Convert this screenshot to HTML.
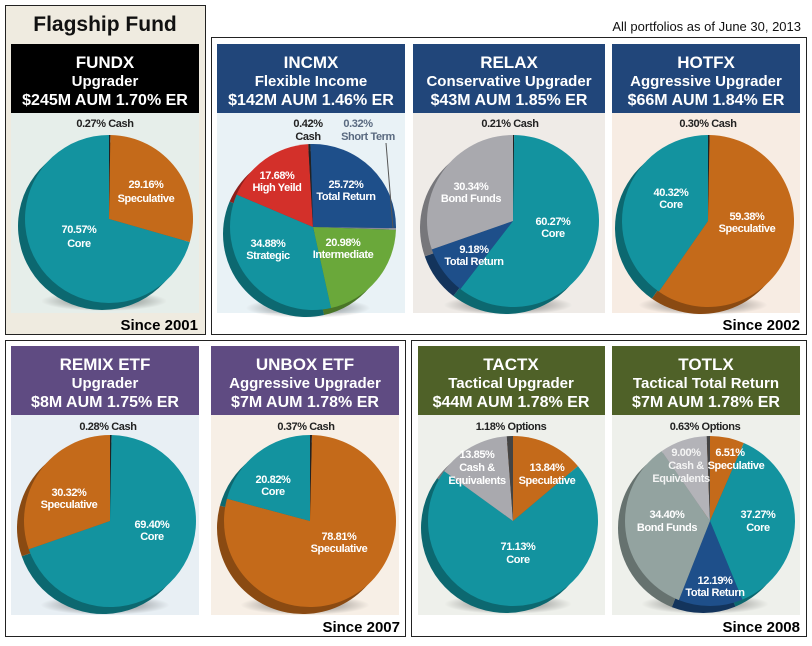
<!DOCTYPE html>
<html><head><meta charset="utf-8"><style>
body{margin:0;background:#fff;}
svg text{font-family:"Liberation Sans",sans-serif;}
.h{font-weight:bold;fill:#fff;text-anchor:middle;}
.l{font-weight:bold;font-size:11px;fill:#fff;text-anchor:middle;letter-spacing:-0.4px;}
.d{font-weight:bold;font-size:11px;fill:#222;text-anchor:middle;letter-spacing:-0.4px;}
.s{font-weight:bold;font-size:15px;fill:#000;text-anchor:end;}
</style></head><body>
<svg id="sv" width="812" height="641" xmlns="http://www.w3.org/2000/svg">
<defs>
<radialGradient id="sh"><stop offset="0" stop-color="#000" stop-opacity="0.55"/><stop offset="1" stop-color="#000" stop-opacity="0"/></radialGradient>
</defs>
<!-- boxes -->
<rect x="5.5" y="5.5" width="200" height="329" fill="#efebe0" stroke="#222"/>
<rect x="211.5" y="37.5" width="595" height="297" fill="#fff" stroke="#222"/>
<rect x="5.5" y="340.5" width="400" height="296" fill="#fff" stroke="#222"/>
<rect x="411.5" y="340.5" width="395" height="296" fill="#fff" stroke="#222"/>
<text x="105" y="31" style="font-size:21px;font-weight:bold;text-anchor:middle;fill:#111">Flagship Fund</text>
<text x="801" y="31" style="font-size:13px;text-anchor:end;fill:#111">All portfolios as of June 30, 2013</text>
<!-- panel bgs -->
<rect x="11" y="113" width="188" height="200" fill="#e6eeea"/>
<rect x="217" y="113" width="188" height="200" fill="#e9f2f6"/>
<rect x="413" y="113" width="192" height="200" fill="#efebe7"/>
<rect x="612" y="113" width="188" height="200" fill="#f7ece3"/>
<rect x="11" y="415" width="188" height="200" fill="#e8eff4"/>
<rect x="211" y="415" width="188" height="200" fill="#f7efe6"/>
<rect x="418" y="415" width="187" height="200" fill="#eef0eb"/>
<rect x="612" y="415" width="188" height="200" fill="#eef0eb"/>
<!-- headers -->
<rect x="11" y="44" width="188" height="69" fill="#000"/>
<rect x="217" y="44" width="188" height="69" fill="#21467a"/>
<rect x="413" y="44" width="192" height="69" fill="#21467a"/>
<rect x="612" y="44" width="188" height="69" fill="#21467a"/>
<rect x="11" y="346" width="188" height="69" fill="#5f4b82"/>
<rect x="211" y="346" width="188" height="69" fill="#5f4b82"/>
<rect x="418" y="346" width="187" height="69" fill="#4f6128"/>
<rect x="612" y="346" width="188" height="69" fill="#4f6128"/>
<g id="hdr"></g>
<g id="pies"></g>
<g>
<text class="h" style="font-size:17px" x="105" y="68">FUNDX</text><text class="h" style="font-size:15px" x="105" y="86">Upgrader</text><text class="h" style="font-size:16px" x="105" y="105">$245M AUM  1.70% ER</text>
<text class="h" style="font-size:17px" x="311" y="68">INCMX</text><text class="h" style="font-size:15px" x="311" y="86">Flexible Income</text><text class="h" style="font-size:16px" x="311" y="105">$142M AUM  1.46% ER</text>
<text class="h" style="font-size:17px" x="509" y="68">RELAX</text><text class="h" style="font-size:15px" x="509" y="86">Conservative Upgrader</text><text class="h" style="font-size:16px" x="509" y="105">$43M AUM  1.85% ER</text>
<text class="h" style="font-size:17px" x="706" y="68">HOTFX</text><text class="h" style="font-size:15px" x="706" y="86">Aggressive Upgrader</text><text class="h" style="font-size:16px" x="706" y="105">$66M AUM  1.84% ER</text>
<text class="h" style="font-size:17px" x="105" y="370">REMIX ETF</text><text class="h" style="font-size:15px" x="105" y="388">Upgrader</text><text class="h" style="font-size:16px" x="105" y="407">$8M AUM  1.75% ER</text>
<text class="h" style="font-size:17px" x="305" y="370">UNBOX ETF</text><text class="h" style="font-size:15px" x="305" y="388">Aggressive Upgrader</text><text class="h" style="font-size:16px" x="305" y="407">$7M AUM  1.78% ER</text>
<text class="h" style="font-size:17px" x="511" y="370">TACTX</text><text class="h" style="font-size:15px" x="511" y="388">Tactical Upgrader</text><text class="h" style="font-size:16px" x="511" y="407">$44M AUM  1.78% ER</text>
<text class="h" style="font-size:17px" x="706" y="370">TOTLX</text><text class="h" style="font-size:15px" x="706" y="388">Tactical Total Return</text><text class="h" style="font-size:16px" x="706" y="407">$7M AUM  1.78% ER</text>
</g>
<g id="labels">
<text class="d" x="105" y="127">0.27% Cash</text>
<text class="l" x="146" y="188">29.16%</text><text class="l" x="146" y="202">Speculative</text>
<text class="l" x="79" y="233">70.57%</text><text class="l" x="79" y="247">Core</text>
<text class="d" x="308" y="127">0.42%</text><text class="d" x="308" y="140">Cash</text>
<text class="d" x="358" y="127" style="fill:#5a6a80">0.32%</text><text class="d" x="368" y="140" style="fill:#5a6a80">Short Term</text>
<line x1="386" y1="143" x2="393" y2="228" stroke="#555"/>
<text class="l" x="277" y="179">17.68%</text><text class="l" x="277" y="191">High Yeild</text>
<text class="l" x="346" y="188">25.72%</text><text class="l" x="346" y="200">Total Return</text>
<text class="l" x="268" y="247">34.88%</text><text class="l" x="268" y="259">Strategic</text>
<text class="l" x="343" y="246">20.98%</text><text class="l" x="343" y="258">Intermediate</text>
<text class="d" x="510" y="127">0.21% Cash</text>
<text class="l" x="471" y="190">30.34%</text><text class="l" x="471" y="202">Bond Funds</text>
<text class="l" x="553" y="225">60.27%</text><text class="l" x="553" y="237">Core</text>
<text class="l" x="474" y="253">9.18%</text><text class="l" x="474" y="265">Total Return</text>
<text class="d" x="708" y="127">0.30% Cash</text>
<text class="l" x="671" y="196">40.32%</text><text class="l" x="671" y="208">Core</text>
<text class="l" x="747" y="220">59.38%</text><text class="l" x="747" y="232">Speculative</text>
<text class="d" x="108" y="430">0.28% Cash</text>
<text class="l" x="69" y="496">30.32%</text><text class="l" x="69" y="508">Speculative</text>
<text class="l" x="152" y="528">69.40%</text><text class="l" x="152" y="540">Core</text>
<text class="d" x="306" y="430">0.37% Cash</text>
<text class="l" x="273" y="483">20.82%</text><text class="l" x="273" y="495">Core</text>
<text class="l" x="339" y="540">78.81%</text><text class="l" x="339" y="552">Speculative</text>
<text class="d" x="511" y="430">1.18% Options</text>
<text class="l" x="477" y="458">13.85%</text><text class="l" x="477" y="471">Cash &amp;</text><text class="l" x="477" y="484">Equivalents</text>
<text class="l" x="547" y="471">13.84%</text><text class="l" x="547" y="484">Speculative</text>
<text class="l" x="518" y="550">71.13%</text><text class="l" x="518" y="563">Core</text>
<text class="d" x="705" y="430">0.63% Options</text>
<text class="l" x="686" y="456" style="fill:#f4f4f4">9.00%</text><text class="l" x="686" y="469" style="fill:#f4f4f4">Cash &amp;</text><text class="l" x="681" y="482" style="fill:#f4f4f4">Equivalents</text>
<text class="l" x="730" y="456">6.51%</text><text class="l" x="736" y="469">Speculative</text>
<text class="l" x="758" y="518">37.27%</text><text class="l" x="758" y="531">Core</text>
<text class="l" x="667" y="518">34.40%</text><text class="l" x="667" y="531">Bond Funds</text>
<text class="l" x="715" y="584">12.19%</text><text class="l" x="715" y="596">Total Return</text>
</g>
<text class="s" x="198" y="330">Since 2001</text>
<text class="s" x="800" y="330">Since 2002</text>
<text class="s" x="400" y="632">Since 2007</text>
<text class="s" x="800" y="632">Since 2008</text>
</svg>
<script>
var T='#13939f',TD='#0c6870',O='#c46a1a',OD='#8a4a12',K='#222',N='#1e4f8a',ND='#13345c',G='#6aa83a',GD='#497527',R='#d3302a',RD='#8e1f1b',Y='#a9a9ae',YD='#77777b',Y2='#93a3a0',Y2D='#66726f',Y3='#b3b3b8';
var P=[
[109,219,84,0,[[0.27,K],[29.16,O],[70.57,T]]],
[313,227,83,-0.5,[[25.72,N],[0.32,'#889'],[20.98,G],[34.88,T],[17.68,R],[0.42,K]]],
[513,221,86,0,[[0.21,K],[60.27,T],[9.18,N],[30.34,Y]]],
[708,221,86,0,[[0.30,K],[59.38,O],[40.32,T]]],
[110,521,86,0,[[0.28,K],[69.40,T],[30.32,O]]],
[310,521,86,0,[[0.37,K],[78.81,O],[20.82,T]]],
[513,521,85,0,[[13.84,O],[71.13,T],[13.85,Y],[1.18,'#444']]],
[710,521,85,0,[[6.51,O],[37.27,T],[12.19,N],[34.40,Y2],[9.00,Y3],[0.63,'#444']]]
];
var dk={};dk[T]=TD;dk[O]=OD;dk[N]=ND;dk[G]=GD;dk[R]=RD;dk[Y]=YD;dk[Y2]=Y2D;dk[Y3]=YD;
var g=document.getElementById('pies'),s='';
function pie(cx,cy,r,st,sl,dark){var a=st/100*2*Math.PI,o='';var tot=0;sl.forEach(function(x){tot+=x[0];});
sl.forEach(function(x){var b=a+x[0]/tot*2*Math.PI;var x1=cx+r*Math.sin(a),y1=cy-r*Math.cos(a),x2=cx+r*Math.sin(b),y2=cy-r*Math.cos(b);
var c=dark?(dk[x[1]]||'#333'):x[1];
o+='<path d="M'+cx+','+cy+'L'+x1.toFixed(2)+','+y1.toFixed(2)+'A'+r+','+r+' 0 '+((b-a)>Math.PI?1:0)+' 1 '+x2.toFixed(2)+','+y2.toFixed(2)+'Z" fill="'+c+'"/>';a=b;});return o;}
P.forEach(function(p){s+='<ellipse cx="'+(p[0]-5)+'" cy="'+(p[1]+p[2]-2)+'" rx="'+(p[2]*0.75)+'" ry="10" fill="url(#sh)"/>';
s+=pie(p[0]-7,p[1]+7,p[2],p[3],p[4],true);s+=pie(p[0],p[1],p[2],p[3],p[4],false);});
g.innerHTML=s;
</script>
</body></html>
